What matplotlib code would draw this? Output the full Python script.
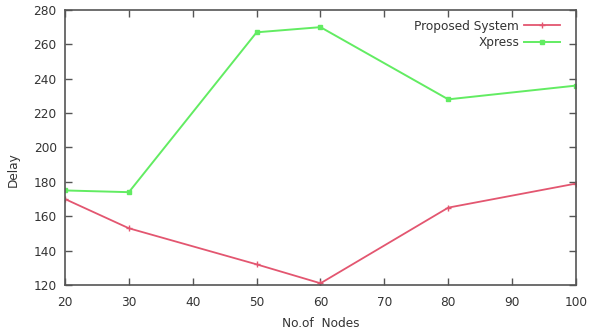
import matplotlib
matplotlib.use("Agg")
import matplotlib.pyplot as plt

# data
nodes = [20, 30, 50, 60, 80, 100]
proposed_delay = [170, 153, 132, 121, 165, 179]
xpress_delay = [175, 174, 267, 270, 228, 236]

x_ticks = [20, 30, 40, 50, 60, 70, 80, 90, 100]
y_ticks = [120, 140, 160, 180, 200, 220, 240, 260, 280]

fig = plt.figure(figsize=(5.98, 3.32), dpi=100)
ax = fig.add_axes([0.1087, 0.1416, 0.8545, 0.8284])

ax.plot(nodes, proposed_delay, color="#e35670", lw=1.3, marker="+",
        markersize=4, markeredgewidth=1.0, label="Proposed System")
ax.plot(nodes, xpress_delay, color="#62ec62", lw=1.4, marker="s",
        markersize=2.5, label="Xpress")

ax.set_xlim(20, 100)
ax.set_ylim(120, 280)
ax.set_xticks(x_ticks)
ax.set_yticks(y_ticks)
ax.tick_params(direction="in", top=True, right=True, length=5,
               width=1, color="#555555", labelsize=8.7, labelcolor="#333333")
ax.tick_params(axis="x", pad=8)
ax.tick_params(axis="y", pad=6)
for s in ax.spines.values():
    s.set_color("#555555")
    s.set_linewidth(1.2)

ax.set_xlabel("No.of  Nodes", fontsize=8.7, color="#333333", labelpad=6)
ax.set_ylabel("Delay", fontsize=8.7, color="#333333", labelpad=12)
ax.yaxis.set_label_coords(-0.088, 0.42)

leg = ax.legend(loc="upper right", bbox_to_anchor=(0.988, 1.0), frameon=False,
                fontsize=8.7, markerfirst=False, handlelength=3.0,
                handletextpad=0.4, borderaxespad=0.4, labelspacing=0.3)
for t in leg.get_texts():
    t.set_color("#333333")
    t.set_ha("right")

fig.savefig("out.png", dpi=100)
